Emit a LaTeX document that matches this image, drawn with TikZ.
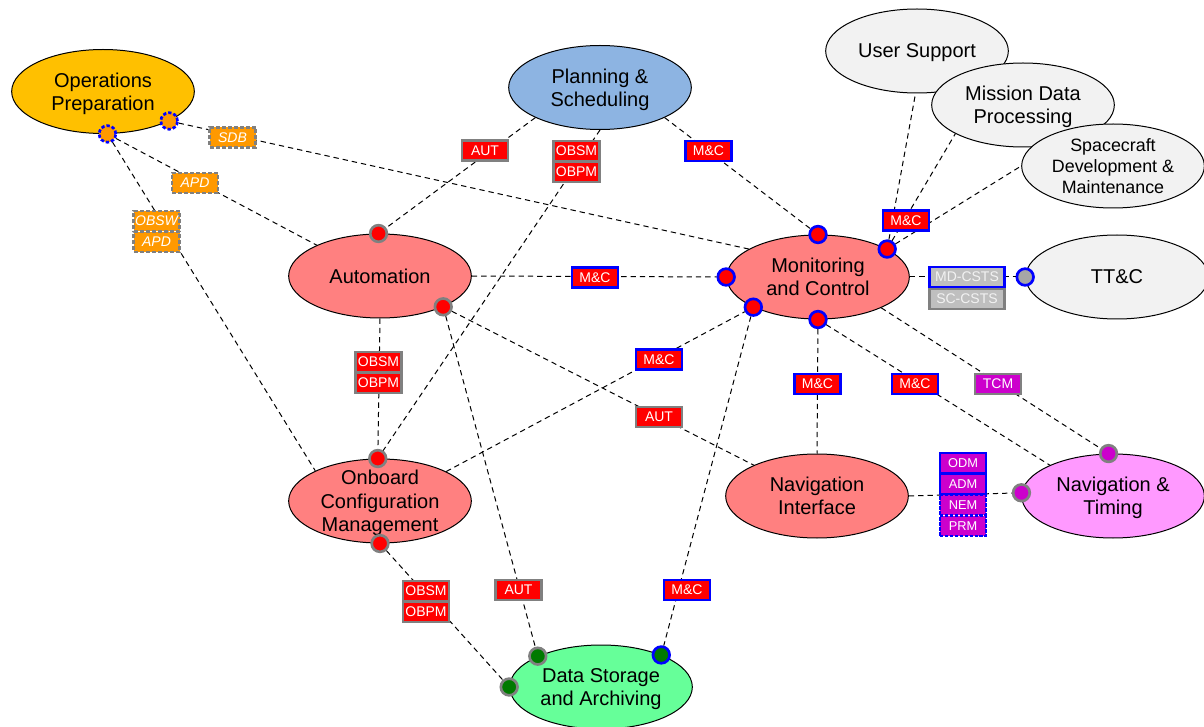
\documentclass[tikz,border=0pt]{standalone}
\usepackage{fontspec}
\setmainfont{Liberation Sans}
\usetikzlibrary{shapes.geometric}

\definecolor{procred}{HTML}{FF8080}
\definecolor{tagred}{HTML}{FF0000}
\definecolor{rimgray}{HTML}{808080}
\definecolor{rimblue}{HTML}{0000FF}
\definecolor{opsgold}{HTML}{FFC000}
\definecolor{tagorange}{HTML}{FF9900}
\definecolor{planblue}{HTML}{8DB4E2}
\definecolor{extgray}{HTML}{F2F2F2}
\definecolor{navpink}{HTML}{FF99FF}
\definecolor{tagmagenta}{HTML}{CC00CC}
\definecolor{storegreen}{HTML}{66FF99}
\definecolor{portgreen}{HTML}{007A00}
\definecolor{cstsgray}{HTML}{BFBFBF}
\definecolor{portgray}{HTML}{A6A6A6}
\definecolor{cststext}{HTML}{F2F2F2}

\begin{document}
\begin{tikzpicture}[x=0.75pt, y=-0.75pt,
  proc/.style={ellipse, draw=black, line width=0.75pt, minimum width=137pt,
    minimum height=63pt, inner sep=-6pt, align=center, text depth=0pt,
    font=\fontsize{15}{17.5}\selectfont},
  port/.style={circle, minimum size=12.5pt, inner sep=0pt, line width=2pt},
  redport/.style={port, fill=tagred, draw=#1},
  tag/.style={rectangle, minimum width=34.5pt, minimum height=15pt, inner sep=0pt,
    line width=2pt, text=white, font=\fontsize{10.5}{11}\selectfont},
  redtag/.style={tag, fill=tagred, draw=#1},
  apdtag/.style={tag, fill=tagorange, draw=rimgray, dash pattern=on 3pt off 1.5pt,
    font=\fontsize{10.5}{11}\selectfont\itshape},
  nmtag/.style={tag, fill=tagmagenta, draw=rimblue, font=\fontsize{9.6}{10}\selectfont},
  link/.style={draw=black, line width=0.75pt, dash pattern=on 4pt off 3pt},
]
\useasboundingbox (0,0) rectangle (1204,727);
\clip (0,0) rectangle (1204,727);

% ---- functions ----
\node[proc, fill=opsgold]   (ops)  at (103,91.5) {Operations\\Preparation};
\node[proc, fill=planblue]  (plan) at (600,87.5) {Planning \&\\Scheduling};
\node[proc, fill=extgray]   (user) at (917,51)   {User Support};
\node[proc, fill=extgray]   (mdp)  at (1023,105) {Mission Data\\Processing};
\node[proc, fill=extgray, font=\fontsize{13.4}{15.8}\selectfont]
                            (scd)  at (1113,166) {Spacecraft\\Development \&\\Maintenance};
\node[proc, fill=procred]   (auto) at (380,276)  {Automation};
\node[proc, fill=procred]   (moc)  at (818,277)  {Monitoring\\and Control};
\node[proc, fill=extgray]   (ttc)  at (1117,277) {TT\&C};
\node[proc, fill=procred]   (ocm)  at (380,501)  {Onboard\\Configuration\\Management};
\node[proc, fill=procred]   (nav)  at (817,496)  {Navigation\\Interface};
\node[proc, fill=navpink]   (nat)  at (1113,496) {Navigation \&\\Timing};
\node[proc, fill=storegreen](dsa)  at (601,687)  {Data Storage\\and Archiving};

% ---- service ports ----
\node[port, fill=tagorange, draw=rimblue, dash pattern=on 2.5pt off 1.5pt] (opsA) at (ops.336) {};
\node[port, fill=tagorange, draw=rimblue, dash pattern=on 2.5pt off 1.5pt] (opsB) at (ops.276) {};
\node[redport=rimgray] (autoT) at (auto.92) {};
\node[redport=rimgray] (autoR) at (auto.334) {};
\node[redport=rimblue] (mocT)  at (moc.90) {};
\node[redport=rimblue] (mocNE) at (moc.22) {};
\node[redport=rimblue] (mocW)  at (moc.180) {};
\node[redport=rimblue] (mocSW) at (moc.205) {};
\node[redport=rimblue] (mocS)  at (moc.270) {};
\node[port, fill=portgray, draw=rimblue] (ttcW) at (ttc.180) {};
\node[redport=rimgray] (ocmT)  at (ocm.93) {};
\node[redport=rimgray] (ocmB)  at (ocm.270) {};
\node[port, fill=portgreen, draw=rimgray] (dsaNW) at (dsa.154) {};
\node[port, fill=portgreen, draw=rimgray] (dsaW)  at (dsa.180) {};
\node[port, fill=portgreen, draw=rimblue] (dsaNE) at (dsa.28) {};
\node[port, fill=tagmagenta, draw=rimgray] (natN) at (nat.96) {};
\node[port, fill=tagmagenta, draw=rimgray] (natW) at (nat.178) {};

% ---- interfaces ----
\draw[link] (opsA) -- (moc.158);
\draw[link] (opsB) -- (auto.154);
\draw[link] (opsB) -- (ocm.155);
\draw[link] (plan.205) -- (autoT);
\draw[link] (plan.270) -- (ocmT);
\draw[link] (plan.335) -- (mocT);
\draw[link] (auto.0) -- (mocW);
\draw[link] (autoR) -- (nav.154);
\draw[link] (autoR) -- (dsaNW);
\draw[link] (auto.270) -- (ocmT);
\draw[link] (ocm.24) -- (mocSW);
\draw[link] (ocmB) -- (dsaW);
\draw[link] (mocSW) -- (dsaNE);
\draw[link] (mocS) -- (nav.90);
\draw[link] (mocS) -- (nat.154);
\draw[link] (moc.334) -- (natN);
\draw[link] (moc.0) -- (ttcW);
\draw[link] (nav.0) -- (natW);
\draw[link] (mocNE) -- (user.268);
\draw[link] (mocNE) -- (mdp.203);
\draw[link] (mocNE) -- (scd.180);

% ---- interface labels ----
\node[apdtag] (tSDB)  at (232.5,137.5) {SDB};
\node[apdtag] (tAPD)  at (195,183)     {APD};
\node[apdtag] (tOBSW) at (156.5,221)   {OBSW};
\node[apdtag] (tAPDb) at (156.5,242)   {APD};

\node[redtag=rimgray] (tAUT1)  at (485,150.5) {AUT};
\node[redtag=rimgray] (tOBSM1) at (576.5,151) {OBSM};
\node[redtag=rimgray] (tOBPM1) at (576.5,172) {OBPM};
\node[redtag=rimblue] (tMC1)   at (708.5,151) {M\&C};
\node[redtag=rimblue] (tMC2)   at (906,220.5) {M\&C};
\node[redtag=rimblue] (tMC3)   at (595,277.5) {M\&C};
\node[redtag=rimgray] (tOBSM2) at (378.5,362) {OBSM};
\node[redtag=rimgray] (tOBPM2) at (378.5,383) {OBPM};
\node[redtag=rimblue] (tMC4)   at (659,359.5) {M\&C};
\node[redtag=rimgray] (tAUT2)  at (659,417)   {AUT};
\node[redtag=rimblue] (tMC5)   at (817.5,384) {M\&C};
\node[redtag=rimblue] (tMC6)   at (915,384)   {M\&C};
\node[tag, fill=tagmagenta, draw=rimgray] (tTCM) at (998,384) {TCM};
\node[redtag=rimgray] (tOBSM3) at (426,591)   {OBSM};
\node[redtag=rimgray] (tOBPM3) at (426,612)   {OBPM};
\node[redtag=rimgray] (tAUT3)  at (518.5,590) {AUT};
\node[redtag=rimblue] (tMC7)   at (687,590)   {M\&C};

\node[tag, fill=cstsgray, draw=rimgray, text=cststext, minimum width=56.5pt] (tSC) at (967,299) {SC-CSTS};
\node[tag, fill=cstsgray, draw=rimblue, text=cststext, minimum width=56.5pt] (tMD) at (967,277) {MD-CSTS};

\node[nmtag, draw=rimblue, dash pattern=on 2.5pt off 1.2pt, line width=1.5pt] (tPRM) at (963,526) {PRM};
\node[nmtag, draw=rimblue, dash pattern=on 2.5pt off 1.2pt, line width=1.5pt] (tNEM) at (963,505) {NEM};
\node[nmtag] (tADM) at (963,484) {ADM};
\node[nmtag] (tODM) at (963,463) {ODM};
\end{tikzpicture}
\end{document}
